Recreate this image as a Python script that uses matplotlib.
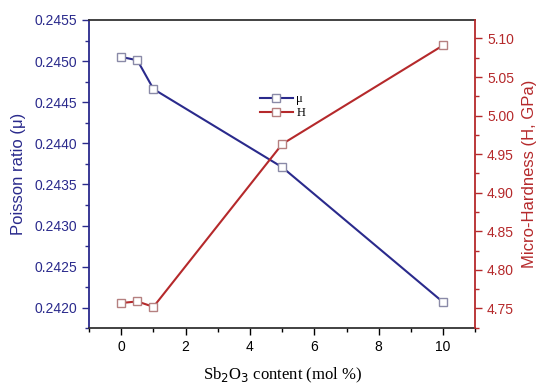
import matplotlib
matplotlib.use("Agg")
import matplotlib.pyplot as plt
from matplotlib.ticker import MultipleLocator

# Sb2O3 content (mol %)
content = [0, 0.5, 1, 5, 10]
# Poisson ratio
mu = [0.24505, 0.24501, 0.24466, 0.24371, 0.24207]
# Micro-hardness (GPa)
hardness = [4.757, 4.759, 4.752, 4.963, 5.091]

blue = "#2a2a8c"
red = "#b5292b"

plt.rcParams["font.family"] = ["Liberation Sans", "DejaVu Sans"]

fig = plt.figure(figsize=(5.5, 3.91), dpi=100)
ax = fig.add_axes([0.162, 0.160, 0.702, 0.789])
ax2 = ax.twinx()

l1, = ax.plot(content, mu, color=blue, lw=1.5, marker="s", ms=5.5,
              mfc="white", mec="#8a8aa8", mew=1.0, label="μ")
l2, = ax2.plot(content, hardness, color=red, lw=1.5, marker="s", ms=5.5,
               mfc="white", mec="#b58080", mew=1.0, label="H")

ax.set_xlim(-1, 11)
ax.set_ylim(0.24175, 0.2455)
ax2.set_ylim(4.724, 5.124)

ax.xaxis.set_major_locator(MultipleLocator(2))
ax.xaxis.set_minor_locator(MultipleLocator(1))
ax.yaxis.set_major_locator(MultipleLocator(0.0005))
ax.yaxis.set_minor_locator(MultipleLocator(0.00025))
ax2.yaxis.set_major_locator(MultipleLocator(0.05))
ax2.yaxis.set_minor_locator(MultipleLocator(0.025))
ax.yaxis.set_major_formatter(plt.FormatStrFormatter("%.4f"))
ax2.yaxis.set_major_formatter(plt.FormatStrFormatter("%.2f"))

ax.tick_params(axis="y", which="both", colors=blue, labelsize=10)
ax.tick_params(axis="y", which="major", length=5, width=1)
ax.tick_params(axis="y", which="minor", length=3, width=1)
ax.tick_params(axis="x", which="major", length=5, width=1, labelsize=10)
ax.tick_params(axis="x", which="minor", length=3, width=1)
ax2.tick_params(axis="y", which="both", colors=red, labelsize=10)
ax2.tick_params(axis="y", which="major", length=5, width=1)
ax2.tick_params(axis="y", which="minor", length=3, width=1)

ax.spines["left"].set_color(blue)
ax.spines["left"].set_linewidth(1.3)
ax2.spines["left"].set_visible(False)
ax2.spines["right"].set_color(red)
ax2.spines["right"].set_linewidth(1.3)
ax.spines["right"].set_visible(False)
for s in ["top", "bottom"]:
    ax.spines[s].set_color("#333333")
    ax.spines[s].set_linewidth(1.3)
    ax2.spines[s].set_visible(False)

ax.set_ylabel("Poisson ratio (μ)", color=blue, fontsize=12, labelpad=6)
ax2.set_ylabel("Micro-Hardness (H, GPa)", color=red, fontsize=12, labelpad=6)
ax.set_xlabel("Sb$_2$O$_3$ content (mol %)", fontsize=12,
              family="Liberation Serif", labelpad=8)

leg = ax.legend([l1, l2], ["μ", "H"], loc="upper left",
                bbox_to_anchor=(0.42, 0.79), frameon=False,
                handlelength=2.6, handletextpad=0.3, labelspacing=0.15,
                borderpad=0.2, prop={"family": "Liberation Serif", "size": 9})

fig.savefig("out.png", dpi=100)
